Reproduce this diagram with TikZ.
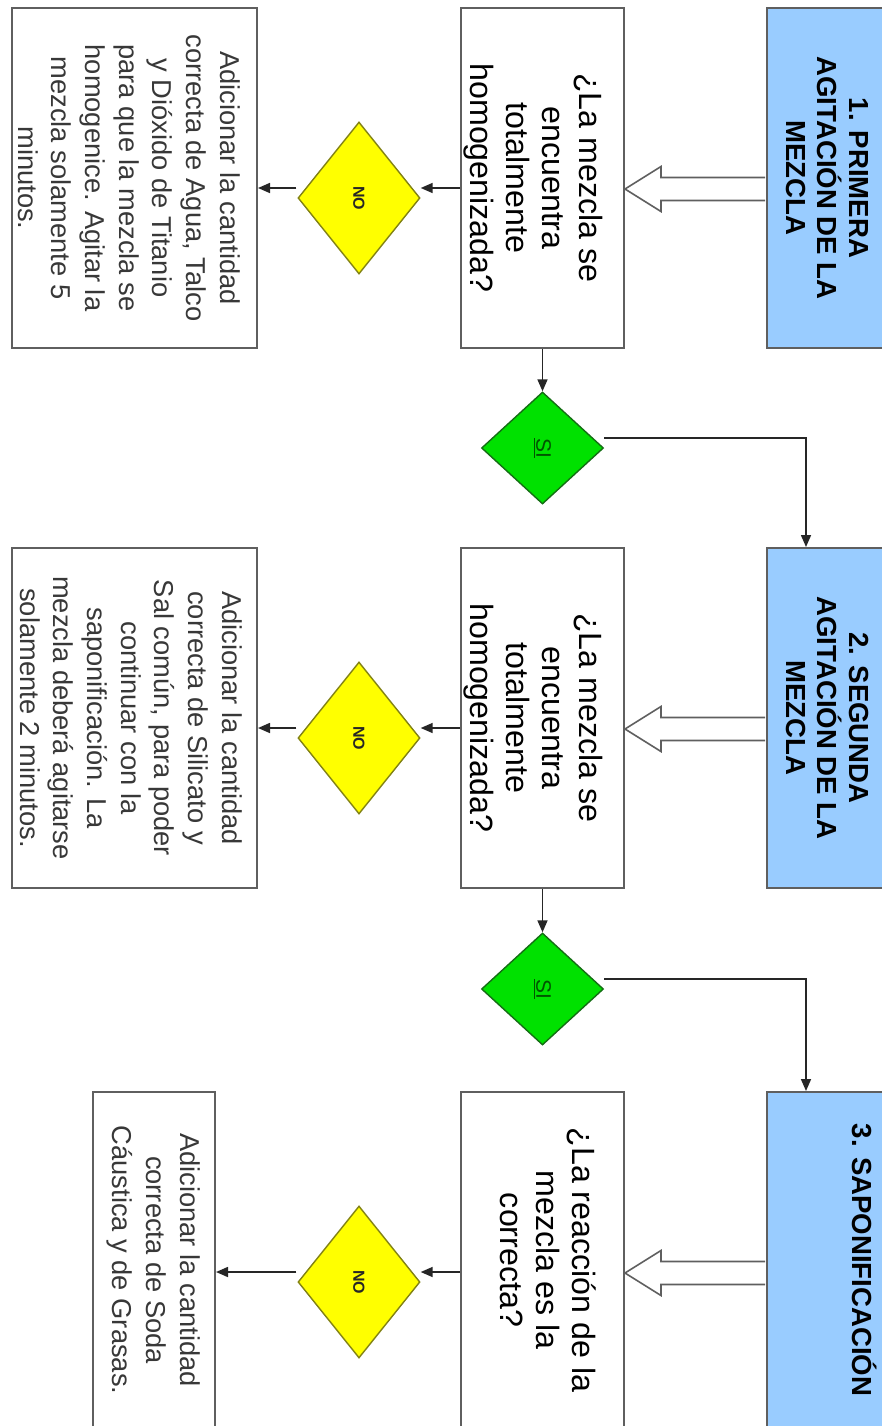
\documentclass[tikz,border=0pt]{standalone}
\usepackage{fontspec}
\setmainfont{Liberation Sans}
\usetikzlibrary{shapes.geometric,arrows.meta,calc}

\definecolor{azulpaso}{RGB}{153,204,255}
\definecolor{amarillo}{RGB}{255,255,0}
\definecolor{bordeamarillo}{RGB}{130,130,20}
\definecolor{verde}{RGB}{0,225,0}
\definecolor{bordeverde}{RGB}{20,110,20}
\definecolor{verdesi}{RGB}{0,85,0}
\definecolor{borde}{RGB}{95,95,95}

\tikzset{
  caja/.style={draw=borde, line width=2pt, inner sep=0pt, minimum height=340pt},
  paso/.style={caja, fill=azulpaso, minimum width=120pt},
  pregunta/.style={caja, fill=white, minimum width=163pt},
  accion/.style={caja, fill=white, minimum width=245pt},
  decision/.style={diamond, line width=1.4pt, inner sep=0pt, minimum width=122pt},
  decno/.style={decision, fill=amarillo, draw=bordeamarillo, minimum height=152pt},
  decsi/.style={decision, fill=verde, draw=bordeverde, minimum height=112pt},
  vertical/.style={rotate=-90, align=center, inner sep=0pt},
  txtpaso/.style={vertical, font=\bfseries\fontsize{27.6}{31.5}\selectfont},
  txtpregunta/.style={vertical, font=\fontsize{32.2}{36.3}\selectfont},
  txtaccion/.style={vertical, text=black!78, font=\fontsize{27.3}{33.7}\selectfont},
  txtno/.style={vertical, text=black!85, font=\bfseries\fontsize{16}{18}\selectfont},
  txtsi/.style={vertical, text=verdesi, font=\fontsize{21}{24}\selectfont},
  flecha/.style={draw=black!85, line width=1.6pt, -{Triangle[length=12pt,width=10pt]}},
  hueca/.style={draw=borde, line width=1.6pt, fill=white}
}

\begin{document}
\begin{tikzpicture}[x=1pt, y=-1pt]
    \useasboundingbox (0,0) rectangle (882,1426);
    \fill[white] (0,0) rectangle (882,1426);
    \clip (0,0) rectangle (882,1426);

    % Paso 1
    \node[paso] (b1) at (827,178) {};
    \node[txtpaso] (tb1) at (827,178) {1. PRIMERA\\AGITACIÓN DE LA\\MEZCLA};
    \node[pregunta] (q1) at (542.5,178) {};
    \node[txtpregunta] (tq1) at (533,178) {¿La mezcla se\\encuentra\\totalmente\\homogenizada?};
    \node[decno] (n1) at (359,198) {};
    \node[txtno] (tn1) at (n1) {NO};
    \node[accion] (a1) at (134.5,178) {};
    \node[txtaccion] (ta1) at (129,178) {Adicionar la cantidad\\correcta de Agua, Talco\\y Dióxido de Titanio\\para que la mezcla se\\homogenice. Agitar la\\mezcla solamente 5\\minutos.};
    \node[decsi] (s1) at (542.5,448) {};
    \node[txtsi] (ts1) at (s1) {\underline{SI}};

    % Paso 2
    \node[paso] (b2) at (827,718) {};
    \node[txtpaso] (tb2) at (827,718) {2. SEGUNDA\\AGITACIÓN DE LA\\MEZCLA};
    \node[pregunta] (q2) at (542.5,718) {};
    \node[txtpregunta] (tq2) at (533,718) {¿La mezcla se\\encuentra\\totalmente\\homogenizada?};
    \node[decno] (n2) at (359,738) {};
    \node[txtno] (tn2) at (n2) {NO};
    \node[accion] (a2) at (134.5,718) {};
    \node[txtaccion] (ta2) at (131,718) {Adicionar la cantidad\\correcta de Silicato y\\Sal común, para poder\\continuar con la\\saponificación. La\\mezcla deberá agitarse\\solamente 2 minutos.};
    \node[decsi] (s2) at (542.5,989) {};
    \node[txtsi] (ts2) at (s2) {\underline{SI}};

    % Paso 3
    \node[paso, minimum width=196pt] (b3) at (865,1262) {};
    \node[txtpaso] (tb3) at (865,1260) {3. SAPONIFICACIÓN};
    \node[pregunta] (q3) at (542.5,1262) {};
    \node[txtpregunta] (tq3) at (548,1260) {¿La reacción de la\\mezcla es la\\correcta?};
    \node[decno] (n3) at (359,1282) {};
    \node[txtno] (tn3) at (n3) {NO};
    \node[accion, minimum width=122pt] (a3) at (154,1262) {};
    \node[txtaccion] (ta3) at (153.5,1260) {Adicionar la cantidad\\correcta de Soda\\Cáustica y de Grasas.};

    % Flechas huecas paso -> pregunta
    \foreach \k in {1,2,3}
        \draw[hueca] ($(b\k.west)+(-1,-0.5)$) -- ($(q\k.east)+(36,-0.5)$) -- ($(q\k.east)+(36,-11.5)$)
            -- ($(q\k.east)+(0,11)$) -- ($(q\k.east)+(36,33.5)$) -- ($(q\k.east)+(36,22.5)$)
            -- ($(b\k.west)+(-1,22.5)$);

    % Rama NO
    \foreach \k in {1,2,3} {
        \draw[flecha] ($(q\k.west)+(0,10)$) -- ($(n\k.east)+(0,-10)$);
        \draw[flecha] ($(n\k.west)+(-1,-10)$) -- ($(a\k.east)+(0,10)$);
    }

    % Rama SI
    \draw[flecha] (q1.south) -- (s1.north);
    \draw[flecha] ($(s1.east)+(0,-10)$) -| ($(b2.north west)+(40,0)$);
    \draw[flecha] (q2.south) -- (s2.north);
    \draw[flecha] ($(s2.east)+(0,-10)$) -| ($(b3.north west)+(40,0)$);

\end{tikzpicture}
\end{document}
